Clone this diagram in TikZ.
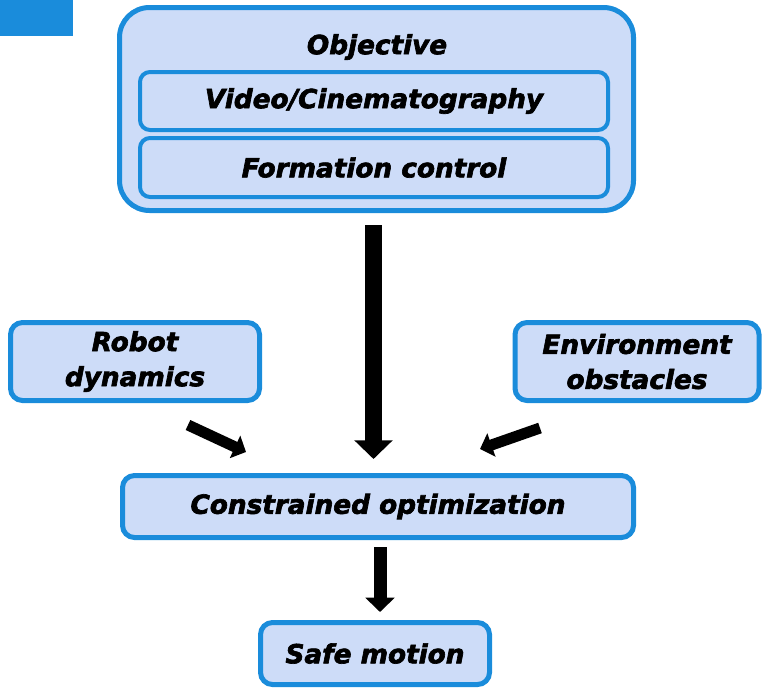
\documentclass[tikz,border=0pt]{standalone}
\usepackage{fontspec}
\setmainfont{DejaVu Sans}[BoldItalicFeatures={FakeBold=2.5}]
\usetikzlibrary{arrows.meta}
\definecolor{edgeblue}{HTML}{1A8CDB}
\definecolor{boxfill}{HTML}{CDDCF8}
\tikzset{
  every node/.style={font=\fontsize{26.3}{35}\selectfont\bfseries\itshape},
  blockbox/.style={draw=edgeblue, fill=boxfill, line width=5pt, rounded corners=12pt,
    align=center, inner sep=0pt},
  innerbox/.style={draw=edgeblue, fill=boxfill, line width=4pt, rounded corners=10pt,
    align=center, inner sep=0pt},
  flowarrow/.style={line width=#1, -{Triangle[length=1.1*#1, width=2.2*#1]}},
}
\begin{document}
\begin{tikzpicture}[x=1pt, y=-1pt]
\useasboundingbox (0,0) rectangle (762,688);

% corner tab
\fill[edgeblue] (0,0) rectangle (73,36);

% objective group
\node[blockbox, rounded corners=30pt, minimum width=514pt, minimum height=203pt]
  (obj) at (376.5,109) {};
\node (objtitle) at (377,47) {Objective};
\node[innerbox, minimum width=468pt, minimum height=58pt] (video) at (374,101) {Video/Cinematography};
\node[innerbox, minimum width=468pt, minimum height=59pt] (formation) at (374,167.5) {Formation control};

% inputs
\node[blockbox, minimum width=249pt, minimum height=78pt] (robot) at (135,361.5) {Robot\\dynamics};
\node[blockbox, minimum width=244pt, minimum height=78pt] (env) at (637,361.5) {Environment\\obstacles};

% optimisation and output
\node[blockbox, minimum width=511pt, minimum height=62pt] (opt) at (378,506.5) {Constrained optimization};
\node[blockbox, minimum width=229pt, minimum height=62pt] (safe) at (375,653.5) {Safe motion};

% connectors
\draw[flowarrow=17pt, shorten <=12pt, shorten >=14pt]
  ([xshift=-3pt]obj.south) -- ([xshift=-3pt]obj.south |- opt.north);
\draw[flowarrow=13pt, shorten <=7pt, shorten >=8pt]
  ([xshift=2pt]opt.south) -- ([xshift=2pt]opt.south |- safe.north);

\coordinate (robotTail) at (188,425);
\coordinate (robotTip) at (246,452);
\coordinate (envTail) at (540,428);
\coordinate (envTip) at (480,449);
\draw[flowarrow=11pt] (robotTail) -- (robotTip);
\draw[flowarrow=11pt] (envTail) -- (envTip);
\end{tikzpicture}
\end{document}
